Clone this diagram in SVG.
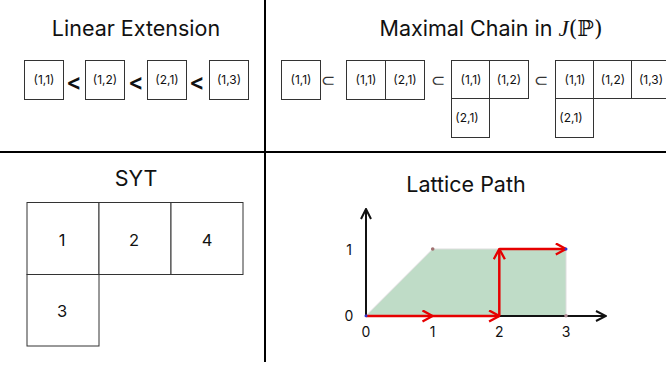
<svg xmlns="http://www.w3.org/2000/svg" width="666" height="365" viewBox="0 0 666 365">
<style>
.bg{fill:#ffffff}
.div{stroke:#000;stroke-width:2;fill:none}
.title{font-family:Inter,"Liberation Sans",sans-serif;font-size:21.5px;fill:#111;text-anchor:middle}
.cell{fill:#fff;stroke:#333;stroke-width:1}
.lbl{font-family:Inter,"Liberation Sans",sans-serif;font-size:12px;fill:#111;text-anchor:middle}
.lt{font-family:Inter,"Liberation Sans",sans-serif;font-size:23px;font-weight:600;fill:#111;text-anchor:middle}
.sub{font-family:"DejaVu Sans",sans-serif;font-size:17px;fill:#333;text-anchor:middle}
.num{font-family:Inter,"Liberation Sans",sans-serif;font-size:16.5px;fill:#111;text-anchor:middle}
.ax{font-family:Inter,"Liberation Sans",sans-serif;font-size:14px;fill:#111;text-anchor:middle}
.axis{stroke:#111;stroke-width:2;fill:none}
.red{stroke:#e60000;stroke-width:2.5;fill:none}
</style>
<defs>
<marker id="ab" viewBox="0 0 12 12" refX="11" refY="6" markerWidth="12" markerHeight="12" markerUnits="userSpaceOnUse" orient="auto">
<path d="M1,1 L11,6 L1,11" fill="none" stroke="#111" stroke-width="2"/>
</marker>
<marker id="ar" viewBox="0 0 14 14" refX="13" refY="7" markerWidth="13" markerHeight="13" markerUnits="userSpaceOnUse" orient="auto">
<path d="M2,1 L13,7 L2,13" fill="none" stroke="#e60000" stroke-width="2.5"/>
</marker>
</defs>
<rect class="bg" x="0" y="0" width="666" height="365"/>
<g id="dividers">
<line class="div" x1="265" y1="0" x2="265" y2="362"/>
<line class="div" x1="0" y1="152" x2="666" y2="152"/>
</g>

<g id="linear-extension">
<text class="title" x="136" y="36">Linear Extension</text>
<rect class="cell" x="24.5" y="60.5" width="39" height="39"/>
<text class="lbl" x="44" y="84">(1,1)</text>
<text class="lt" x="74" y="90">&lt;</text>
<rect class="cell" x="85.5" y="60.5" width="39" height="39"/>
<text class="lbl" x="105" y="84">(1,2)</text>
<text class="lt" x="136" y="90">&lt;</text>
<rect class="cell" x="147.5" y="60.5" width="39" height="39"/>
<text class="lbl" x="167" y="84">(2,1)</text>
<text class="lt" x="197" y="90">&lt;</text>
<rect class="cell" x="209.5" y="60.5" width="39" height="39"/>
<text class="lbl" x="229" y="84">(1,3)</text>
</g>

<g id="maximal-chain">
<text class="title" x="491" y="36">Maximal Chain in <tspan font-family="'Liberation Serif',serif" font-style="italic" font-size="23px">J</tspan><tspan font-family="'DejaVu Serif',serif" font-size="22px">(ℙ)</tspan></text>
<rect class="cell" x="281.5" y="60.5" width="39" height="39"/>
<text class="lbl" x="301" y="84">(1,1)</text>
<text class="sub" x="328" y="86">⊂</text>
<rect class="cell" x="346.5" y="60.5" width="39" height="39"/>
<rect class="cell" x="385.5" y="60.5" width="39" height="39"/>
<text class="lbl" x="366" y="84">(1,1)</text>
<text class="lbl" x="405" y="84">(2,1)</text>
<text class="sub" x="438" y="86">⊂</text>
<rect class="cell" x="451.5" y="60.5" width="38" height="38"/>
<rect class="cell" x="489.5" y="60.5" width="39" height="38"/>
<rect class="cell" x="451.5" y="98.5" width="38" height="39"/>
<text class="lbl" x="471" y="84">(1,1)</text>
<text class="lbl" x="509" y="84">(1,2)</text>
<text class="lbl" x="467" y="122">(2,1)</text>
<text class="sub" x="541" y="86">⊂</text>
<rect class="cell" x="555.5" y="60.5" width="38" height="38"/>
<rect class="cell" x="593.5" y="60.5" width="38" height="38"/>
<rect class="cell" x="631.5" y="60.5" width="40" height="38"/>
<rect class="cell" x="555.5" y="98.5" width="38" height="39"/>
<text class="lbl" x="575" y="84">(1,1)</text>
<text class="lbl" x="613" y="84">(1,2)</text>
<text class="lbl" x="651" y="84">(1,3)</text>
<text class="lbl" x="571" y="122">(2,1)</text>
</g>

<g id="syt">
<text class="title" x="136" y="186">SYT</text>
<rect class="cell" x="27" y="202.5" width="72" height="72"/>
<rect class="cell" x="99" y="202.5" width="72" height="72"/>
<rect class="cell" x="171" y="202.5" width="72" height="72"/>
<rect class="cell" x="27" y="274.5" width="72" height="71.5"/>
<text class="num" x="62" y="246">1</text>
<text class="num" x="134" y="246">2</text>
<text class="num" x="207" y="246">4</text>
<text class="num" x="62" y="317">3</text>
</g>

<g id="lattice-path">
<text class="title" x="466" y="192">Lattice Path</text>
<polygon points="366,315.7 432.7,249 566,249 566,315.7" fill="#bfdcc7" stroke="#dddddd" stroke-width="1"/>
<line class="axis" x1="366" y1="316" x2="366" y2="209" marker-end="url(#ab)"/>
<line class="axis" x1="366" y1="316" x2="606" y2="316" marker-end="url(#ab)"/>
<text class="ax" x="349" y="321">0</text>
<text class="ax" x="349" y="255">1</text>
<text class="ax" x="366" y="337">0</text>
<text class="ax" x="432.7" y="337">1</text>
<text class="ax" x="499.3" y="337">2</text>
<text class="ax" x="566" y="337">3</text>
<g id="path-edges">
<line class="red" x1="366" y1="316" x2="432.7" y2="316" marker-end="url(#ar)"/>
<line class="red" x1="432.7" y1="316" x2="499.3" y2="316" marker-end="url(#ar)"/>
<line class="red" x1="499.3" y1="316" x2="499.3" y2="249" marker-end="url(#ar)"/>
<line class="red" x1="499.3" y1="249" x2="566" y2="249" marker-end="url(#ar)"/>
</g>
<circle cx="432.7" cy="249" r="1.8" fill="#a07070"/>
<circle cx="566" cy="315.7" r="1.8" fill="#b09098"/>
<circle cx="366" cy="315.7" r="1.5" fill="#3333cc"/>
<circle cx="566" cy="249" r="1.5" fill="#3333cc"/>
</g>
</svg>
